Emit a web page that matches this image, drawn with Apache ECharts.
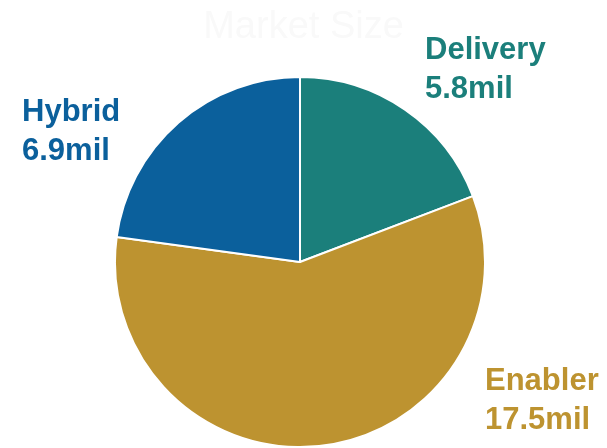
<!DOCTYPE html>
<html><head><meta charset="utf-8">
<script src="https://cdn.jsdelivr.net/npm/echarts@6/dist/echarts.min.js"></script>
<style>html,body{margin:0;padding:0;background:#fff}#c{width:607px;height:448px}</style>
</head><body><div id="c"></div>
<script>
var title = 'Market Size';
var categories = ['Delivery', 'Enabler', 'Hybrid'];
var values = [5.8, 17.5, 6.9];
var unit = 'mil';
var colors = ['#1b7f7b', '#bd9330', '#0b609c'];
var labelPos = [[425, 31, 'left'], [485, 362, 'left'], [22, 93, 'left']];

var chart = echarts.init(document.getElementById('c'));
chart.setOption({
  backgroundColor: '#fff',
  title: {text: title, left: 'center', top: 4,
    textStyle: {color: '#f9f9f9', fontFamily: 'Liberation Sans, Arial', fontWeight: 'normal', fontSize: 38}},
  series: [{
    type: 'pie',
    center: [300, 262],
    radius: [0, 185],
    startAngle: 90,
    clockwise: true,
    animation: false,
    itemStyle: {borderColor: '#fff', borderWidth: 2},
    labelLine: {show: false},
    label: {
      show: true,
      position: 'outside',
      formatter: function (p) { return p.name + '\n' + p.value + unit; },
      fontFamily: 'Liberation Sans, Arial',
      fontWeight: 'bold',
      fontSize: 31,
      lineHeight: 39,
      color: 'inherit'
    },
    labelLayout: function (p) {
      var lp = labelPos[p.dataIndex];
      return {x: lp[0], y: lp[1], align: lp[2], verticalAlign: 'top', hideOverlap: false};
    },
    data: categories.map(function (c, i) {
      return {name: c, value: values[i], itemStyle: {color: colors[i]}, label: {color: colors[i]}};
    })
  }]
});
</script></body></html>
